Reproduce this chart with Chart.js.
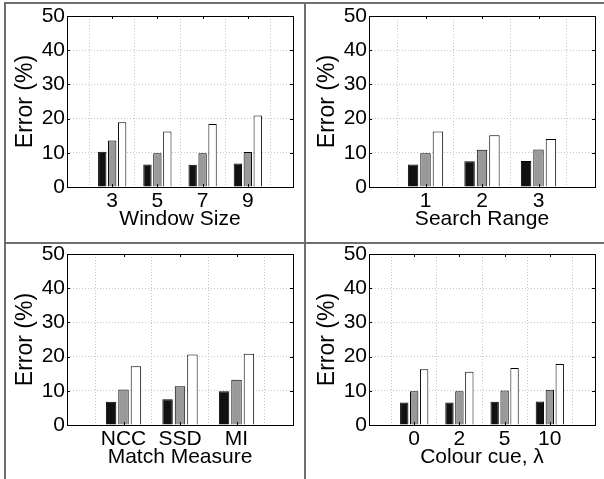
<!DOCTYPE html>
<html>
<head>
<meta charset="utf-8">
<script src="https://cdn.jsdelivr.net/npm/chart.js@4/dist/chart.umd.min.js"></script>
<style>
  body { margin: 0; background: #fff; }
  #page { position: relative; width: 604px; height: 479px; overflow: hidden; }
  .panel { position: absolute; width: 300px; height: 238px; }
  .line { position: absolute; background: #6e6e6e; }
</style>
</head>
<body>
<div id="page">
  <div class="panel" style="left:0;top:0"><canvas id="c1" width="300" height="238"></canvas></div>
  <div class="panel" style="left:302px;top:0"><canvas id="c2" width="300" height="238"></canvas></div>
  <div class="panel" style="left:0;top:238px"><canvas id="c3" width="300" height="238"></canvas></div>
  <div class="panel" style="left:302px;top:238px"><canvas id="c4" width="300" height="238"></canvas></div>
  <div class="line" style="left:5px;top:2px;width:599px;height:2px"></div>
  <div class="line" style="left:4px;top:2px;width:2px;height:477px"></div>
  <div class="line" style="left:304px;top:2px;width:2px;height:477px"></div>
  <div class="line" style="left:5px;top:242px;width:599px;height:2px"></div>
</div>
<script>
// tick labels / categories
const windowSizes = ['3', '5', '7', '9'];
const searchRanges = ['1', '2', '3'];
const matchMeasures = ['NCC', 'SSD', 'MI'];
const colourCues = ['0', '2', '5', '10'];
const errorTicks = [0, 10, 20, 30, 40, 50];

// error (%) for the three methods (black, grey, white bars)
const windowSizeBlack = [10.3, 6.6, 6.5, 6.9];
const windowSizeGrey = [13.6, 9.9, 9.9, 10.2];
const windowSizeWhite = [18.9, 16.2, 18.4, 20.9];

const searchRangeBlack = [6.6, 7.5, 7.6];
const searchRangeGrey = [9.9, 10.9, 11.0];
const searchRangeWhite = [16.2, 15.1, 14.0];

const matchMeasureBlack = [6.8, 7.5, 9.9];
const matchMeasureGrey = [10.4, 11.3, 13.2];
const matchMeasureWhite = [17.2, 20.6, 20.8];

const colourCueBlack = [6.6, 6.6, 6.8, 6.9];
const colourCueGrey = [9.9, 9.9, 10.1, 10.3];
const colourCueWhite = [16.3, 15.6, 16.7, 17.8];

const font = { family: "'Liberation Sans', Arial, sans-serif", size: 21 };
const yTitleFont = { family: "'Liberation Sans', Arial, sans-serif", size: 23 };

// black box round the plot area plus small inward ticks, matlab style
const boxPlugin = {
  id: 'box',
  afterDatasetsDraw(chart) {
    const { ctx, chartArea: a, scales } = chart;
    ctx.save();
    ctx.strokeStyle = '#000';
    ctx.lineWidth = 1;
    ctx.beginPath();
    scales.y.ticks.forEach(t => {
      const py = Math.round(scales.y.getPixelForValue(t.value)) + 0.5;
      ctx.moveTo(a.left, py); ctx.lineTo(a.left + 3, py);
      ctx.moveTo(a.right, py); ctx.lineTo(a.right - 3, py);
    });
    scales.x.ticks.forEach(t => {
      const px = Math.round(scales.x.getPixelForValue(t.value)) + 0.5;
      ctx.moveTo(px, a.bottom); ctx.lineTo(px, a.bottom - 3);
      ctx.moveTo(px, a.top); ctx.lineTo(px, a.top + 3);
    });
    ctx.stroke();
    ctx.strokeRect(Math.round(a.left) + 0.5, Math.round(a.top) + 0.5, Math.round(a.right - a.left), Math.round(a.bottom - a.top));
    ctx.restore();
  }
};

const toPoints = (values) => values.map((v, i) => ({ x: i + 1, y: v }));

const drawPanel = (canvasId, labels, black, grey, white, title) => {
  const ctx = document.getElementById(canvasId).getContext('2d');
  const bar = (data, color) => ({
    data: toPoints(data),
    backgroundColor: color,
    borderColor: '#000',
    borderWidth: 1,
    categoryPercentage: 0.66,
    barPercentage: 0.84
  });
  new Chart(ctx, {
    type: 'bar',
    data: {
      datasets: [bar(black, '#111111'), bar(grey, '#999999'), bar(white, '#ffffff')]
    },
    options: {
      responsive: false,
      animation: false,
      events: [],
      layout: { padding: { top: 16, right: 7, left: 0, bottom: 0 } },
      plugins: { legend: { display: false }, tooltip: { enabled: false } },
      scales: {
        x: {
          type: 'linear',
          min: 0,
          max: labels.length + 1,
          offset: false,
          grid: { color: '#c4c4c4', drawTicks: false },
          border: { display: false, dash: [1, 2] },
          ticks: {
            stepSize: 1,
            autoSkip: false,
            maxRotation: 0,
            padding: 2,
            color: '#000',
            font: font,
            callback: (v) => labels[v - 1] ?? ''
          },
          title: { display: true, text: title, color: '#000', font: font, padding: { top: 0, bottom: 6 } },
          afterFit: (scale) => { scale.height = 51; }
        },
        y: {
          min: 0,
          max: 50,
          grid: { color: '#c4c4c4', drawTicks: false },
          border: { display: false, dash: [1, 2] },
          afterBuildTicks: (scale) => { scale.ticks = errorTicks.map(v => ({ value: v })); },
          ticks: { padding: 2, color: '#000', font: font },
          title: { display: true, text: 'Error (%)', color: '#000', font: yTitleFont, padding: { top: 12, bottom: 0 } },
          afterFit: (scale) => { scale.width = 67; }
        }
      }
    },
    plugins: [boxPlugin]
  });
};

drawPanel('c1', windowSizes, windowSizeBlack, windowSizeGrey, windowSizeWhite, 'Window Size');
drawPanel('c2', searchRanges, searchRangeBlack, searchRangeGrey, searchRangeWhite, 'Search Range');
drawPanel('c3', matchMeasures, matchMeasureBlack, matchMeasureGrey, matchMeasureWhite, 'Match Measure');
drawPanel('c4', colourCues, colourCueBlack, colourCueGrey, colourCueWhite, 'Colour cue, \u03bb');
</script>
</body>
</html>
